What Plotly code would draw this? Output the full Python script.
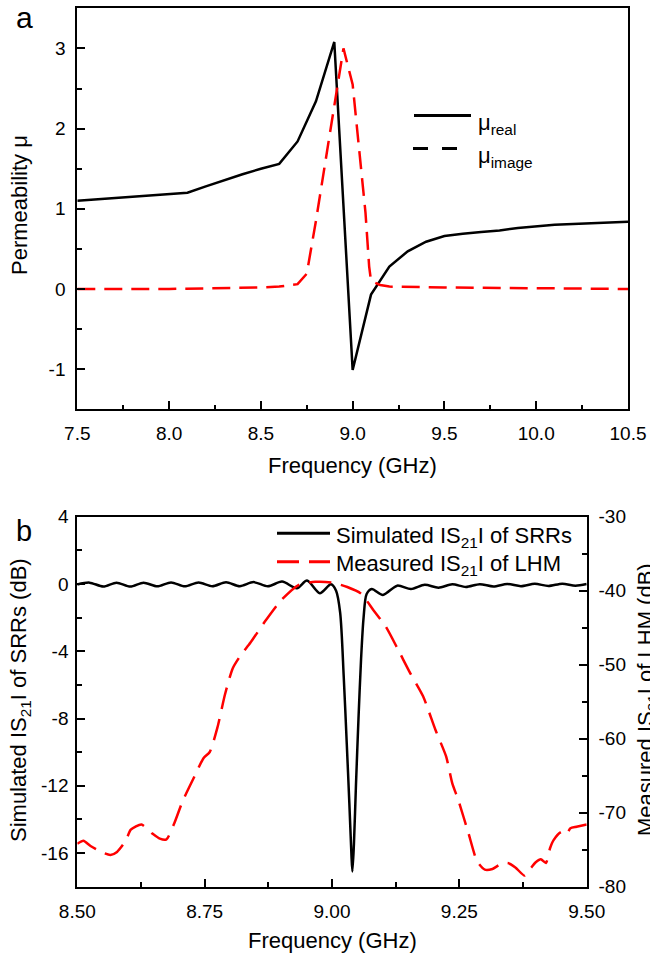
import plotly.graph_objects as go

# ---------------- data ----------------
# Panel a: permeability
freq_a_real = [7.5, 8.1, 8.2, 8.3, 8.4, 8.5, 8.6, 8.7, 8.8, 8.9, 9.0, 9.1, 9.2, 9.3,
               9.4, 9.5, 9.6, 9.7, 9.8, 9.9, 10.0, 10.1, 10.5]
mu_real = [1.10, 1.20, 1.28, 1.36, 1.43, 1.50, 1.56, 1.84, 2.34, 3.08, -1.01, -0.07, 0.28, 0.47,
           0.59, 0.66, 0.69, 0.71, 0.73, 0.76, 0.78, 0.80, 0.84]

freq_a_img = [7.5, 8.0, 8.5, 8.6, 8.7, 8.75, 8.8, 8.85, 8.9, 8.95, 9.0, 9.05, 9.07, 9.09,
              9.1, 9.15, 9.2, 9.5, 10.0, 10.5]
mu_img = [0.0, 0.0, 0.02, 0.03, 0.06, 0.19, 0.85, 1.55, 2.30, 3.00, 2.55, 1.45, 0.95, 0.28,
          0.10, 0.05, 0.03, 0.02, 0.01, 0.0]

# Panel b: simulated |S21| of SRRs (left axis, dB)
freq_b_sim = [8.500, 8.524, 8.551, 8.577, 8.604, 8.630, 8.657, 8.684, 8.711, 8.738, 8.765,
              8.792, 8.819, 8.846, 8.874, 8.902, 8.931, 8.951, 8.976, 8.998, 9.008, 9.016,
              9.023, 9.029, 9.034, 9.038, 9.040, 9.043, 9.047, 9.052, 9.057, 9.062, 9.068,
              9.078, 9.100, 9.128, 9.155, 9.182, 9.209, 9.236, 9.263, 9.290, 9.317, 9.344,
              9.371, 9.398, 9.425, 9.452, 9.478, 9.500]
s21_sim = [-0.03, 0.08, -0.15, 0.08, -0.15, 0.08, -0.14, 0.09, -0.14, 0.09, -0.13,
           0.10, -0.13, 0.11, -0.14, 0.14, -0.26, 0.20, -0.55, -0.02, -0.40, -1.70,
           -5.5, -9.5, -13.0, -16.0, -17.1, -15.5, -12.0, -8.0, -4.5, -2.0, -0.60,
           -0.30, -0.65, -0.10, -0.30, -0.05, -0.22, -0.02, -0.18, -0.01, -0.15, 0.00,
           -0.13, 0.01, -0.12, 0.02, -0.10, 0.00]

# Panel b: measured |S21| of LHM (right axis, dB)
freq_b_meas = [8.500, 8.512, 8.526, 8.550, 8.565, 8.578, 8.595, 8.605, 8.626, 8.647, 8.662,
               8.675, 8.690, 8.707, 8.730, 8.748, 8.760, 8.775, 8.790, 8.805, 8.820, 8.840,
               8.870, 8.900, 8.935, 8.967, 9.000, 9.030, 9.057, 9.081, 9.106, 9.130, 9.154,
               9.179, 9.203, 9.224, 9.236, 9.248, 9.268, 9.285, 9.300, 9.315, 9.330, 9.345,
               9.360, 9.378, 9.390, 9.400, 9.410, 9.420, 9.428, 9.435, 9.450, 9.460, 9.468,
               9.480, 9.500]
s21_meas = [-74.2, -73.8, -74.5, -75.4, -75.7, -75.3, -73.8, -72.3, -71.6, -72.8, -73.5,
            -73.6, -71.5, -68.4, -65.1, -62.6, -61.8, -58.5, -54.0, -50.5, -48.8, -47.0,
            -44.0, -41.3, -39.2, -38.8, -38.9, -39.5, -40.4, -42.6, -44.9, -48.0, -51.2,
            -54.3, -58.8, -62.4, -66.0, -68.3, -72.8, -76.6, -77.7, -77.6, -77.0, -76.8,
            -77.4, -78.5, -77.5, -76.7, -76.3, -76.8, -74.8, -73.7, -72.6, -72.9, -72.1,
            -71.9, -71.6]

# tick labels
ticks_a_x = [7.5, 8.0, 8.5, 9.0, 9.5, 10.0, 10.5]
labels_a_x = ["7.5", "8.0", "8.5", "9.0", "9.5", "10.0", "10.5"]
ticks_a_y = [-1, 0, 1, 2, 3]
labels_a_y = ["-1", "0", "1", "2", "3"]
ticks_b_x = [8.50, 8.75, 9.00, 9.25, 9.50]
labels_b_x = ["8.50", "8.75", "9.00", "9.25", "9.50"]
ticks_b_y = [-16, -12, -8, -4, 0, 4]
labels_b_y = ["-16", "-12", "-8", "-4", "0", "4"]
ticks_b_y2 = [-80, -70, -60, -50, -40, -30]
labels_b_y2 = ["-80", "-70", "-60", "-50", "-40", "-30"]

# ---------------- layout helpers ----------------
W, H = 650, 954
FONT = "Liberation Sans, Arial, sans-serif"


def px(x):
    return x / W


def py(y):
    return 1 - y / H


fig = go.Figure()

fig.add_trace(go.Scatter(x=freq_a_real, y=mu_real, xaxis="x", yaxis="y", mode="lines",
                         line=dict(color="black", width=2.5), showlegend=False))
fig.add_trace(go.Scatter(x=freq_a_img, y=mu_img, xaxis="x", yaxis="y", mode="lines",
                         line=dict(color="red", width=2.5, dash="18px,9px"), showlegend=False))
fig.add_trace(go.Scatter(x=freq_b_sim, y=s21_sim, xaxis="x2", yaxis="y2", mode="lines",
                         line=dict(color="black", width=2.5, shape="spline", smoothing=0.8),
                         showlegend=False))
fig.add_trace(go.Scatter(x=freq_b_meas, y=s21_meas, xaxis="x2", yaxis="y3", mode="lines",
                         line=dict(color="red", width=2.5, dash="22px,10px", shape="spline",
                                   smoothing=0.6),
                         showlegend=False))

common = dict(showline=True, linecolor="black", linewidth=2, ticks="inside", ticklen=8,
              tickwidth=2, tickcolor="black", showgrid=False, zeroline=False,
              tickmode="array", automargin=False,
              tickfont=dict(size=19, color="black", family=FONT))


def minor(d):
    return dict(ticks="inside", ticklen=4.5, tickwidth=2, tickcolor="black", dtick=d,
                showgrid=False)


fig.update_layout(
    width=W, height=H, margin=dict(l=0, r=0, t=0, b=0, autoexpand=False),
    paper_bgcolor="white", plot_bgcolor="white",
    font=dict(family=FONT, color="black"),
    xaxis=dict(domain=[px(77.3), px(628)], range=[7.5, 10.5], tickvals=ticks_a_x,
               ticktext=labels_a_x, anchor="y", mirror=True,
               minor=dict(minor(0.25), tick0=7.5), ticklabelstandoff=6, **common),
    yaxis=dict(domain=[py(409.3), py(8.3)], range=[-1.5, 3.5], tickvals=ticks_a_y,
               ticktext=labels_a_y, anchor="x", mirror=True,
               minor=dict(minor(0.5), tick0=0), ticklabelstandoff=6, **common),
    xaxis2=dict(domain=[px(77.3), px(586.7)], range=[8.5, 9.5], tickvals=ticks_b_x,
                ticktext=labels_b_x, anchor="y2", mirror=True,
                minor=dict(minor(0.125), tick0=8.5), ticklabelstandoff=6, **common),
    yaxis2=dict(domain=[py(886.7), py(516.7)], range=[-18, 4], tickvals=ticks_b_y,
                ticktext=labels_b_y, anchor="x2", mirror=True,
                minor=dict(minor(2), tick0=0), ticklabelstandoff=3, **common),
    yaxis3=dict(range=[-80, -30], tickvals=ticks_b_y2, ticktext=labels_b_y2, anchor="x2",
                overlaying="y2", side="right", minor=dict(minor(5), tick0=-80),
                ticklabelstandoff=6, **common),
)

ann = []


def text(t, x, y, size, xanchor="center", yanchor="middle", angle=0):
    ann.append(dict(text=t, x=px(x), y=py(y), xref="paper", yref="paper", showarrow=False,
                    xanchor=xanchor, yanchor=yanchor, textangle=angle,
                    font=dict(size=size, color="black", family=FONT)))


# panel labels
text("a", 24, 18, 30)
text("b", 24, 531, 29)
# axis titles
text("Frequency (GHz)", 352, 465, 22)
text("Permeability μ", 19, 205, 22, angle=-90)
text("Frequency (GHz)", 332, 940, 22)
text("Simulated IS<sub>21</sub>I of SRRs (dB)", 20, 700, 22, angle=-90)
text("Measured IS<sub>21</sub>I of LHM (dB)", 631, 700, 22, xanchor="left", angle=-90)
# legend texts
text("μ<sub>real</sub>", 476, 124, 22, xanchor="left")
text("μ<sub>image</sub>", 476, 157, 22, xanchor="left")
text("Simulated IS<sub>21</sub>I of SRRs", 334, 537, 22, xanchor="left")
text("Measured IS<sub>21</sub>I of LHM", 334, 565, 22, xanchor="left")

shapes = [
    dict(type="line", xref="paper", yref="paper", x0=px(414), x1=px(471), y0=py(115.5),
         y1=py(115.5), line=dict(color="black", width=3)),
    dict(type="line", xref="paper", yref="paper", x0=px(413), x1=px(457), y0=py(148.5),
         y1=py(148.5), line=dict(color="black", width=3, dash="15px,14px")),
    dict(type="line", xref="paper", yref="paper", x0=px(277), x1=px(330), y0=py(533.3),
         y1=py(533.3), line=dict(color="black", width=3)),
    dict(type="line", xref="paper", yref="paper", x0=px(277), x1=px(330), y0=py(561.7),
         y1=py(561.7), line=dict(color="red", width=3, dash="22px,10px")),
]

fig.update_layout(annotations=ann, shapes=shapes)

fig.write_html("out.html")
